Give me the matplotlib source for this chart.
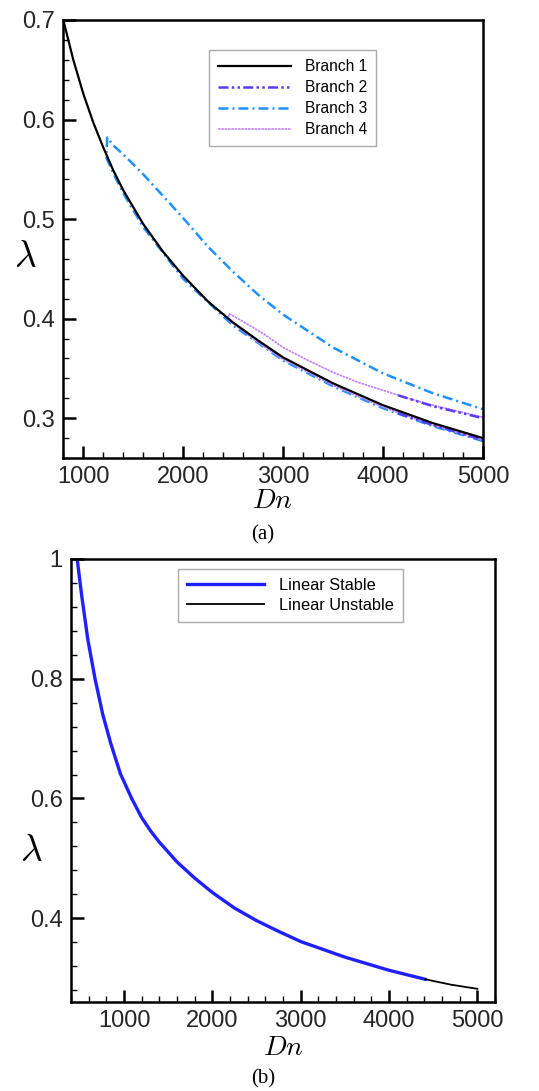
import matplotlib
matplotlib.use('Agg')
import matplotlib.pyplot as plt
from matplotlib.ticker import MultipleLocator

plt.rcParams['font.family'] = ['Liberation Sans', 'DejaVu Sans']
plt.rcParams['mathtext.fontset'] = 'cm'

# ---- panel (a) data ----
b1_dn = [800, 900, 1000, 1100, 1200, 1300, 1400, 1600, 1800, 2000, 2250, 2500,
         2750, 3000, 3500, 4000, 4500, 5000]
b1_lam = [0.700, 0.660, 0.626, 0.597, 0.572, 0.549, 0.529, 0.495, 0.467, 0.443,
          0.417, 0.396, 0.378, 0.361, 0.335, 0.313, 0.295, 0.280]

# branch 3: lower part (hidden under branch 1) then the upper part
b3_dn = [5000, 4500, 4000, 3500, 3000, 2500, 2000, 1600, 1400, 1300, 1230,
         1240, 1300, 1400, 1600, 1800, 2000, 2250, 2500, 2750, 3000, 3500, 4000,
         4500, 5000]
b3_lam = [0.277, 0.292, 0.310, 0.332, 0.358, 0.393, 0.440, 0.492, 0.526, 0.546,
          0.562, 0.582, 0.574, 0.565, 0.545, 0.523, 0.501, 0.472, 0.447, 0.424,
          0.404, 0.371, 0.345, 0.325, 0.309]

# branch 4
b4_dn = [5000, 4500, 4000, 3500, 3000, 2750, 2450, 2460, 2600, 2800, 3000, 3250,
         3500, 3750, 4000, 4250, 4500, 4750, 5000]
b4_lam = [0.278, 0.293, 0.311, 0.333, 0.359, 0.376, 0.399, 0.405, 0.397, 0.385,
          0.371, 0.358, 0.346, 0.336, 0.328, 0.320, 0.313, 0.307, 0.301]

# branch 2 (lower and upper pieces)
b2_low_dn = [4150, 4500, 5000]
b2_low_lam = [0.305, 0.293, 0.278]
b2_up_dn = [4150, 4500, 4750, 5000]
b2_up_lam = [0.323, 0.312, 0.306, 0.300]

# ---- panel (b) data ----
st_dn = [470, 520, 590, 672, 760, 850, 960, 1087, 1200, 1300, 1400, 1600, 1800,
         2000, 2250, 2500, 2750, 3000, 3500, 4000, 4409]
st_lam = [1.000, 0.940, 0.866, 0.800, 0.740, 0.692, 0.641, 0.600, 0.568, 0.546,
          0.527, 0.494, 0.467, 0.443, 0.417, 0.396, 0.378, 0.361, 0.335, 0.313,
          0.298]
un_dn = [4409, 4700, 5000]
un_lam = [0.298, 0.289, 0.282]

W, H = 539, 1091
fig = plt.figure(figsize=(W / 100, H / 100), dpi=100)


def px_axes(l, t, r, b):
    return fig.add_axes([l / W, 1 - b / H, (r - l) / W, (b - t) / H])


def style(ax):
    for s in ax.spines.values():
        s.set_linewidth(1.8)
    ax.tick_params(which='both', direction='in', top=False, right=False,
                   labelsize=17, labelcolor='#262626')
    ax.tick_params(which='major', length=9, width=1.8, pad=6)
    ax.tick_params(which='minor', length=4.5, width=1.0)


# panel (a)
ax1 = px_axes(63.3, 20, 483, 458)
ax1.plot(b3_dn, b3_lam, color='#2090ff', lw=1.8, ls=(0, (4, 1.6, 0.8, 1.6)), label='Branch 3')
ax1.plot(b4_dn, b4_lam, color='#c080ff', lw=1.2, ls=(0, (1.5, 0.5)), label='Branch 4')
ax1.plot(b2_low_dn, b2_low_lam, color='#5a3cff', lw=1.8, ls=(0, (4, 1.3, 1, 1.3, 1, 1.3)), label='Branch 2')
ax1.plot(b2_up_dn, b2_up_lam, color='#5a3cff', lw=1.8, ls=(0, (4, 1.3, 1, 1.3, 1, 1.3)))
ax1.plot(b1_dn, b1_lam, color='black', lw=1.6, label='Branch 1')
ax1.set_xlim(800, 5000)
ax1.set_ylim(0.26, 0.7)
ax1.xaxis.set_major_locator(MultipleLocator(1000))
ax1.xaxis.set_minor_locator(MultipleLocator(200))
ax1.set_yticks([0.3, 0.4, 0.5, 0.6, 0.7])
ax1.yaxis.set_minor_locator(MultipleLocator(0.02))
style(ax1)
h, l = ax1.get_legend_handles_labels()
order = [3, 2, 0, 1]
leg1 = ax1.legend([h[i] for i in order], [l[i] for i in order], loc='upper left',
                  bbox_to_anchor=(0.347, 0.9315), borderaxespad=0, fontsize=11.2,
                  handlelength=4.7, handletextpad=0.85, labelspacing=0.38,
                  borderpad=0.6, fancybox=False, framealpha=1, edgecolor='#aaaaaa')
leg1.get_frame().set_linewidth(1.0)

# panel (b)
ax2 = px_axes(71, 559, 495, 1002)
ax2.plot(st_dn, st_lam, color='#2020ff', lw=2.4, label='Linear Stable')
ax2.plot(un_dn, un_lam, color='black', lw=1.3, label='Linear Unstable')
ax2.set_xlim(400, 5200)
ax2.set_ylim(0.26, 1.0)
ax2.xaxis.set_major_locator(MultipleLocator(1000))
ax2.xaxis.set_minor_locator(MultipleLocator(200))
ax2.set_yticks([0.4, 0.6, 0.8, 1.0])
ax2.set_yticklabels(['0.4', '0.6', '0.8', '1'])
ax2.yaxis.set_minor_locator(MultipleLocator(0.04))
style(ax2)
leg2 = ax2.legend(loc='upper left', bbox_to_anchor=((178 - 71) / 424, (1002 - 569) / 443),
                  borderaxespad=0, fontsize=11.8, handlelength=4.7, handletextpad=0.9,
                  labelspacing=0.3, borderpad=0.55, fancybox=False, framealpha=1,
                  edgecolor='#aaaaaa')
leg2.get_frame().set_linewidth(1.0)


def ftext(x, y, s, va='center', **kw):
    fig.text(x / W, 1 - y / H, s, ha='center', va=va, **kw)


ftext(25, 257, r'$\lambda$', fontsize=27)
ftext(31, 851, r'$\lambda$', fontsize=27)
ftext(272, 508, r'$Dn$', va='baseline', fontsize=20)
ftext(283, 1055, r'$Dn$', va='baseline', fontsize=20)
ftext(263, 539, '(a)', va='baseline', fontsize=15, family='Liberation Serif')
ftext(263, 1083, '(b)', va='baseline', fontsize=15, family='Liberation Serif')

fig.savefig('out.png', dpi=100)
plt.close(fig)
